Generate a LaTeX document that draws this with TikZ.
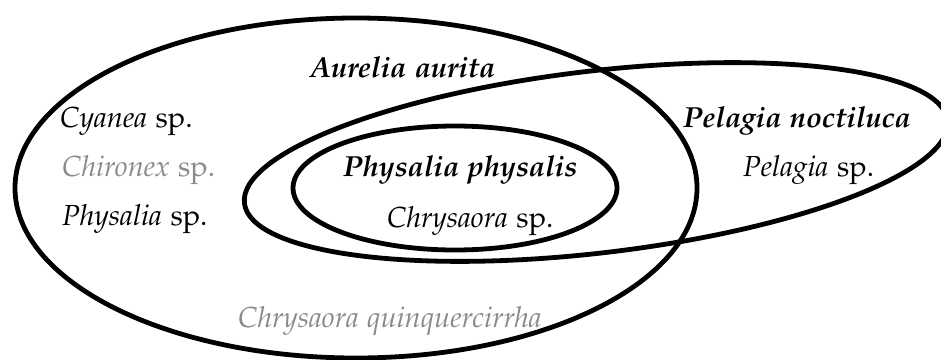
\documentclass[tikz,border=0pt]{standalone}
\usepackage[T1]{fontenc}
\usepackage[sc]{mathpazo}
\begin{document}
\begin{tikzpicture}[x=1pt,y=-1pt,
  ring/.style={line width=4.8pt,black},
  lbl/.style={anchor=base west,inner sep=0pt,font=\fontsize{29}{34}\selectfont},
  dim/.style={text=black!46}]
\useasboundingbox (0,0) rectangle (941,359);
% ellipses
\draw[ring] (356,188) ellipse [x radius=341, y radius=170];
\draw[ring,rotate around={6.7:(596,162)}] (596,162) ellipse [x radius=354, y radius=91];
\draw[ring] (455,188) ellipse [x radius=162, y radius=62];
% labels
\node[lbl] (aur) at (310,77) {\textbf{\textit{Aurelia aurita}}};
\node[lbl] (cya) at (60,127) {\textit{Cyanea} sp.};
\node[lbl,dim] (chi) at (62,176) {\textit{Chironex} sp.};
\node[lbl] (phy) at (62,225) {\textit{Physalia} sp.};
\node[lbl,dim] (cq) at (238,327) {\textit{Chrysaora quinquercirrha}};
\node[lbl] (pp) at (343,176) {\textbf{\textit{Physalia physalis}}};
\node[lbl] (chr) at (387,227) {\textit{Chrysaora} sp.};
\node[lbl] (pn) at (683,127) {\textbf{\textit{Pelagia noctiluca}}};
\node[lbl] (pel) at (743,176) {\textit{Pelagia} sp.};
\end{tikzpicture}
\end{document}
